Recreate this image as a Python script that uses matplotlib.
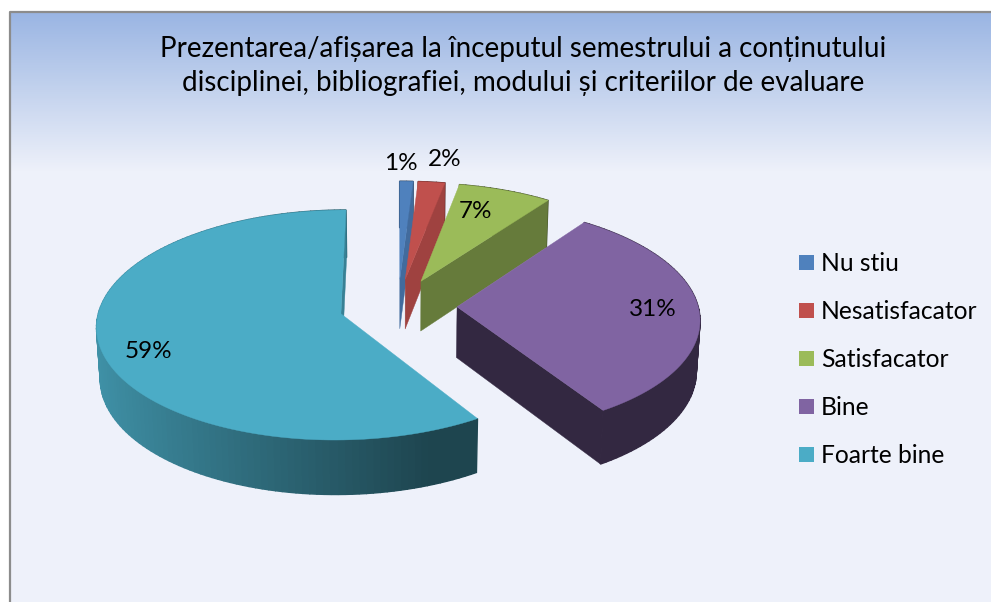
import numpy as np
import matplotlib
matplotlib.use("Agg")
import matplotlib.pyplot as plt
from matplotlib.colors import LinearSegmentedColormap, to_rgb
from matplotlib.patches import Polygon, Rectangle

plt.rcParams['font.family'] = ['Lato', 'DejaVu Sans']

title = "Prezentarea/afișarea la începutul semestrului a conținutului\ndisciplinei, bibliografiei, modului și criteriilor de evaluare"
labels = ["Nu stiu", "Nesatisfacator", "Satisfacator", "Bine", "Foarte bine"]
values = [1, 2, 7, 31, 59]
colors = ["#4f81bd", "#c0504d", "#9bbb59", "#8064a2", "#4bacc6"]

# camera for the 3d look, everything below is in image pixels
X0, Y0 = 398, 306
A = 241
TILT = np.radians(27.8)
PERSP = 0.11
EXPLODE = 0.245
DEPTH = 0.24


def project(x, y, z=0.0):
    v = y * np.sin(TILT) + z * np.cos(TILT)
    w = y * np.cos(TILT) - z * np.sin(TILT)
    s = 1 / (1 + PERSP * w)
    return X0 + A * x * s, Y0 - A * v * s


def shade(col, f):
    return tuple(c * f for c in to_rgb(col))


def wall_quad(p, q):
    x1, y1 = project(*p, 0)
    x2, y2 = project(*q, 0)
    x3, y3 = project(*q, -DEPTH)
    x4, y4 = project(*p, -DEPTH)
    return [(x1, y1), (x2, y2), (x3, y3), (x4, y4)]


fig = plt.figure(figsize=(9.91, 6.02), dpi=100)
ax = fig.add_axes([0, 0, 1, 1])
ax.set_xlim(0, 991)
ax.set_ylim(602, 0)
ax.axis("off")

# panel background
bg = LinearSegmentedColormap.from_list("bg", ["#9ab5e3", "#c4d3ee", "#eef1fa"])
ax.imshow(np.linspace(0, 1, 160).reshape(-1, 1), cmap=bg, aspect="auto",
          extent=(10, 991, 172, 12), zorder=0)
ax.set_xlim(0, 991)
ax.set_ylim(602, 0)
ax.add_patch(Rectangle((10, 172), 981, 430, fc="#eef1fa", ec="none", zorder=0))
ax.plot([10, 10, 991], [602, 12, 12], color="#8c8c8c", lw=1.6, zorder=1)

total = sum(values)
start = 0.0
for k, (val, col) in enumerate(zip(values, colors)):
    end = start + val / total * 2 * np.pi
    mid = (start + end) / 2
    ox, oy = EXPLODE * np.sin(mid), EXPLODE * np.cos(mid)
    n = max(3, int(np.degrees(end - start) / 1.5))
    phi = np.linspace(start, end, n)
    rim = [(ox + np.sin(t), oy + np.cos(t)) for t in phi]
    apex = (ox, oy)
    z = 3 + k

    # outer wall, back pieces first
    order = np.argsort([-(p[1] + q[1]) for p, q in zip(rim[:-1], rim[1:])])
    for i in order:
        nx = np.sin((phi[i] + phi[i + 1]) / 2)
        f = np.interp(nx, [-1, 0.35, 1], [0.85, 0.4, 0.4])
        c = shade(col, f)
        ax.add_patch(Polygon(wall_quad(rim[i], rim[i + 1]), fc=c, ec=c, lw=1.0, zorder=z))

    # cut face at the end of the slice
    f = np.interp(np.degrees(end), [0, 11, 36, 148, 300, 360], [0.83, 0.83, 0.66, 0.4, 0.4, 0.75])
    c = shade(col, f)
    ax.add_patch(Polygon(wall_quad(apex, rim[-1]), fc=c, ec=c, lw=0.3, zorder=z))

    # top of the slice
    top = [project(*apex)] + [project(*p) for p in rim]
    ax.add_patch(Polygon(top, fc=col, ec=col, lw=0.3, zorder=z))
    start = end

for val, xy in zip(values, [(401, 163), (445, 160), (475, 212), (653, 310), (148, 352)]):
    ax.text(xy[0], xy[1], f"{val}%", fontsize=17.5, color="black", ha="center", va="center", zorder=20)

ax.text(523, 66, title, fontsize=20, color="black", ha="center", va="center",
        linespacing=1.42, zorder=20)

for i, (lab, col) in enumerate(zip(labels, colors)):
    y = 262.5 + 48 * i
    ax.add_patch(Rectangle((799, y - 7.5), 15, 15, fc=col, ec="none", zorder=20))
    ax.text(821, y + 1, lab, fontsize=17.7, color="black", ha="left", va="center", zorder=20)

fig.savefig("out.png", dpi=100)
